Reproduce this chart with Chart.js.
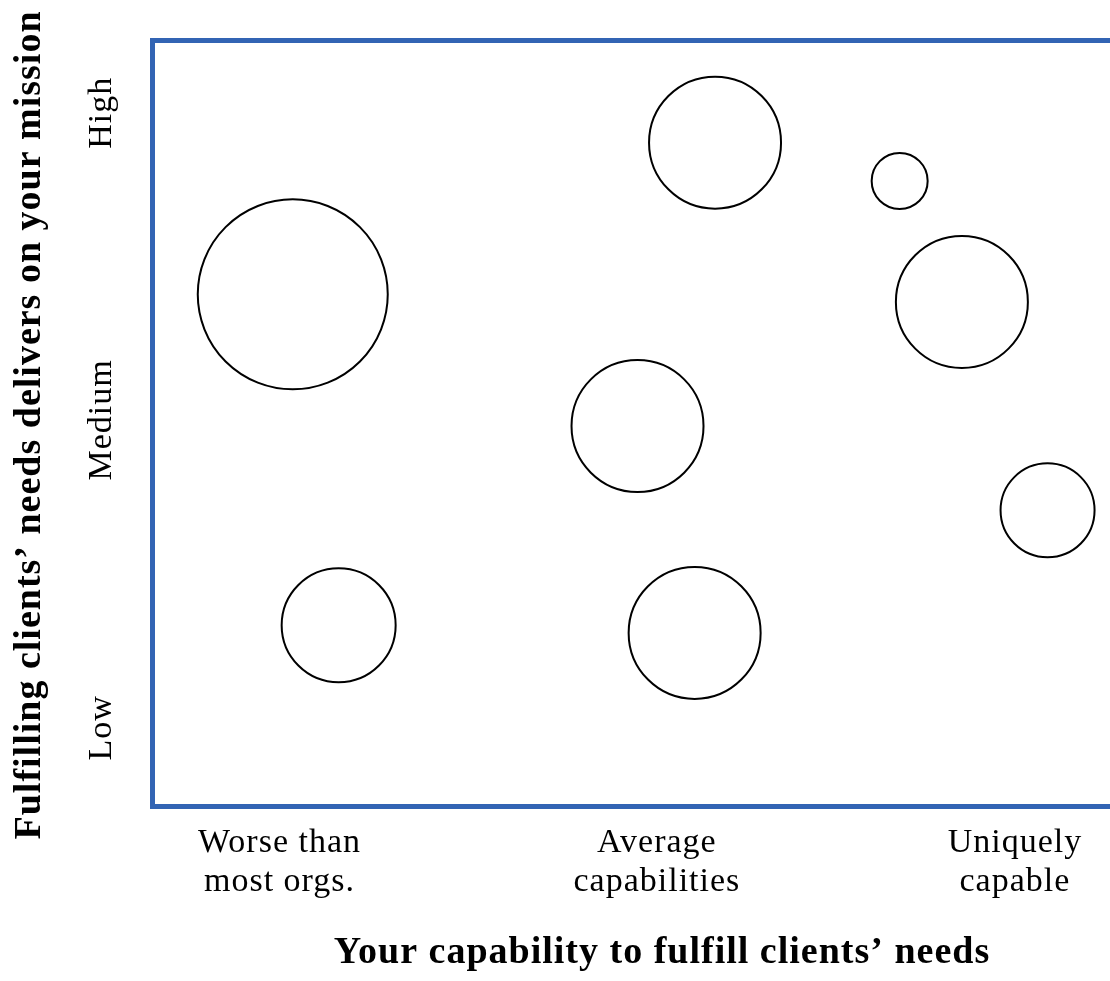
<!DOCTYPE html>
<html>
<head>
<meta charset="utf-8">
<script src="https://cdn.jsdelivr.net/npm/chart.js@4/dist/chart.umd.min.js"></script>
<style>
  html, body { margin: 0; padding: 0; overflow: hidden; background: #fff; }
  canvas { display: block; }
</style>
</head>
<body>
<canvas id="chart" width="1172" height="981"></canvas>
<script>
// tick labels and their positions on the 0..100 axes
const xTickValues = [12.5, 49.5, 84.6];
const xTickLabels = [['Worse than', 'most orgs.'], ['Average', 'capabilities'], ['Uniquely', 'capable']];
const yTickValues = [10.2, 50.4, 90.5];
const yTickLabels = ['Low', 'Medium', 'High'];

// bubbles: position + radius (px)
const bubbleX = [13.8, 55.2, 73.3, 79.4, 47.6, 87.8, 18.3, 53.2];
const bubbleY = [66.8, 86.6, 81.6, 65.8, 49.6, 38.6, 23.6, 22.6];
const bubbleR = [95, 66, 28, 66, 66, 47, 57, 66];

const xTitle = 'Your capability to fulfill clients’ needs';
const yTitle = 'Fulfilling clients’ needs delivers on your mission';

const frameBlue = '#3264b4';
const serif = "'Liberation Serif', 'Times New Roman', serif";

var points = bubbleX.map(function (x, i) {
  return { x: x, y: bubbleY[i], r: bubbleR[i] };
});

// minion-ish text is wider than times, so open up the letters a little
var spacingPlugin = {
  id: 'spacing',
  beforeUpdate: function (chart) { chart.ctx.letterSpacing = '1px'; },
  beforeDraw: function (chart) { chart.ctx.letterSpacing = '1px'; }
};

// y title is longer than the axis, so draw it here (scale title would squeeze it)
var yTitlePlugin = {
  id: 'yTitle',
  afterDraw: function (chart) {
    var ctx = chart.ctx;
    var area = chart.chartArea;
    ctx.save();
    ctx.translate(30, (area.top + area.bottom) / 2 + 2);
    ctx.rotate(-Math.PI / 2);
    ctx.font = 'bold 38px ' + serif;
    ctx.fillStyle = '#000';
    ctx.textAlign = 'center';
    ctx.textBaseline = 'middle';
    ctx.fillText(yTitle, 0, 0);
    ctx.restore();
  }
};

new Chart(document.getElementById('chart'), {
  type: 'bubble',
  data: {
    datasets: [{
      data: points,
      backgroundColor: '#fff',
      borderColor: '#000',
      borderWidth: 2,
      hoverBorderWidth: 2
    }]
  },
  options: {
    responsive: false,
    animation: false,
    events: [],
    layout: { padding: 0, autoPadding: false },
    plugins: { legend: { display: false }, tooltip: { enabled: false } },
    scales: {
      x: {
        type: 'linear',
        position: 'bottom',
        min: 0,
        max: 100,
        grid: { display: false, drawTicks: false },
        border: { display: true, color: frameBlue, width: 5 },
        afterBuildTicks: function (scale) {
          scale.ticks = xTickValues.map(function (v) { return { value: v }; });
        },
        ticks: {
          autoSkip: false,
          maxRotation: 0,
          padding: 18,
          color: '#000',
          font: { family: serif, size: 34, lineHeight: 1.14 },
          callback: function (value, index) { return xTickLabels[index]; }
        },
        title: {
          display: true,
          text: xTitle,
          color: '#000',
          font: { family: serif, size: 38, weight: 'bold' },
          padding: { top: 0, bottom: 5 }
        },
        afterFit: function (scale) { scale.height = 981 - 806; }
      },
      xTop: {
        type: 'linear',
        position: 'top',
        min: 0,
        max: 100,
        grid: { display: false, drawTicks: false },
        border: { display: true, color: frameBlue, width: 5 },
        ticks: { display: false },
        afterFit: function (scale) { scale.height = 40; }
      },
      y: {
        type: 'linear',
        position: 'left',
        min: 0,
        max: 100,
        grid: { display: false, drawTicks: false },
        border: { display: true, color: frameBlue, width: 5 },
        afterBuildTicks: function (scale) {
          scale.ticks = yTickValues.map(function (v) { return { value: v }; });
        },
        ticks: {
          autoSkip: false,
          minRotation: 90,
          maxRotation: 90,
          crossAlign: 'center',
          padding: -11,
          color: '#000',
          font: { family: serif, size: 34 },
          callback: function (value, index) { return yTickLabels[index]; }
        },
        afterFit: function (scale) { scale.width = 152; }
      }
    }
  },
  plugins: [spacingPlugin, yTitlePlugin]
});
</script>
</body>
</html>
